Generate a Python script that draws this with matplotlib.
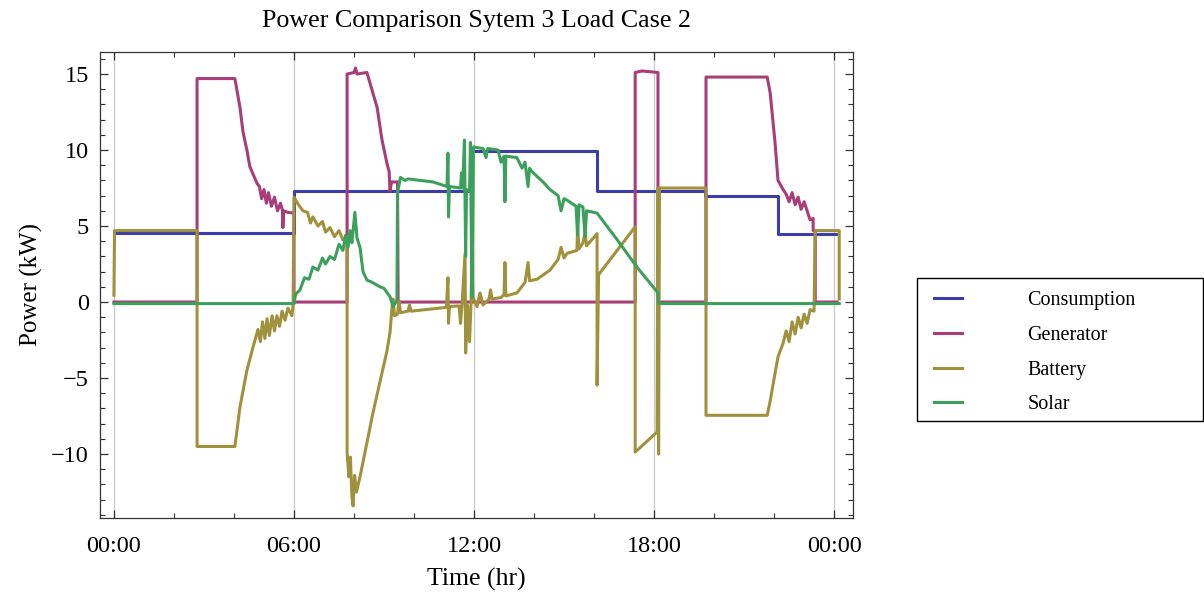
import numpy as np
import matplotlib.pyplot as plt
from matplotlib.ticker import MultipleLocator, FuncFormatter
from matplotlib.patches import Rectangle

plt.rcParams['font.family'] = ['Liberation Serif', 'DejaVu Serif']

# (hour, kW) points
consumption = [(0.0, 4.55), (6.0, 4.55), (6.0, 7.3), (11.93, 7.3), (11.93, 9.95), (16.1, 9.95),
               (16.1, 7.3), (19.7, 7.3), (19.7, 7.0), (22.13, 7.0), (22.13, 4.5), (24.1, 4.5)]

generator = [(0.0, 0), (2.77, 0), (2.77, 14.7), (4.03, 14.7), (4.2, 12.8), (4.3, 11.2), (4.43, 10.0),
             (4.53, 8.9), (4.77, 7.8), (4.85, 7.6), (4.92, 6.8), (5.0, 7.4), (5.08, 6.5), (5.15, 7.2),
             (5.25, 6.3), (5.35, 6.9), (5.45, 6.0), (5.55, 6.5), (5.62, 6.0), (5.63, 4.9), (5.65, 6.0),
             (5.8, 5.9), (6.0, 5.85), (6.0, 0), (7.77, 0), (7.77, 15.0), (8.0, 15.1), (8.05, 15.4),
             (8.1, 15.0), (8.43, 15.1), (8.77, 12.8), (8.93, 10.7), (9.1, 9.1), (9.17, 8.6), (9.2, 7.3),
             (9.25, 7.9), (9.45, 7.9), (9.47, 0), (17.37, 0), (17.37, 15.1), (17.6, 15.2), (18.13, 15.1),
             (18.13, 0), (19.73, 0), (19.73, 14.8), (21.77, 14.8), (21.87, 13.75), (22.03, 10.5),
             (22.13, 8.0), (22.3, 7.4), (22.4, 7.1), (22.5, 6.6), (22.6, 7.2), (22.7, 6.4), (22.8, 6.9),
             (22.9, 6.1), (23.0, 6.6), (23.1, 6.0), (23.2, 5.4), (23.3, 5.5), (23.3, 4.7), (23.37, 4.7),
             (23.37, 0), (24.1, 0)]

battery = [(0.0, 0.45), (0.02, 4.7), (2.77, 4.7), (2.77, -9.5), (4.03, -9.5), (4.2, -6.9), (4.43, -4.5),
           (4.63, -3.0), (4.8, -1.8), (4.88, -2.6), (4.95, -1.3), (5.03, -2.4), (5.1, -1.1), (5.18, -2.2),
           (5.27, -0.9), (5.35, -1.9), (5.43, -0.9), (5.52, -1.6), (5.6, -0.6), (5.7, -1.2), (5.8, -0.4),
           (5.93, -0.9), (5.97, -0.2), (6.0, 6.9), (6.15, 6.4), (6.3, 6.0), (6.45, 5.9), (6.55, 5.2),
           (6.63, 5.6), (6.8, 5.0), (6.95, 5.3), (7.05, 4.6), (7.2, 4.9), (7.35, 4.3), (7.5, 4.7),
           (7.63, 4.1), (7.77, 4.3), (7.77, -9.9), (7.83, -11.5), (7.88, -10.2), (7.93, -12.8),
           (7.97, -13.4), (8.02, -11.4), (8.08, -12.5), (8.2, -11.5), (8.63, -7.3), (9.1, -3.2),
           (9.2, -2.0), (9.27, -0.3), (9.3, 0.2), (9.35, -0.9), (9.45, -0.8), (9.5, 0.1), (9.55, -0.7),
           (9.8, -0.6), (9.85, -0.2), (9.9, -0.6), (11.08, -0.35), (11.13, 1.6), (11.15, -1.4),
           (11.18, -0.3), (11.5, -0.25), (11.55, -1.4), (11.6, -0.2), (11.7, 3.2), (11.72, -3.35),
           (11.78, -0.2), (11.85, -2.6), (11.9, -0.1), (11.93, 3.2), (11.96, 0.3), (12.1, -0.3),
           (12.2, 0.6), (12.3, -0.2), (12.5, 0.2), (12.55, 0.8), (12.6, 0.2), (12.9, 0.3), (13.0, 0.5),
           (13.03, 2.6), (13.06, 0.4), (13.43, 0.6), (13.7, 1.3), (13.8, 2.6), (13.85, 1.4), (14.1, 1.5),
           (14.53, 2.1), (14.8, 2.8), (14.9, 3.6), (15.0, 2.9), (15.1, 3.2), (15.43, 3.4), (15.45, 4.9),
           (15.5, 3.5), (15.63, 3.9), (15.7, 4.6), (15.75, 3.7), (16.1, 4.5), (16.1, -5.46), (16.15, 1.8),
           (17.37, 4.95), (17.37, -9.87), (18.1, -8.55), (18.13, 7.5), (18.15, -10.0), (18.18, 7.5),
           (19.73, 7.5), (19.73, -7.45), (21.77, -7.45), (21.87, -6.5), (22.03, -4.7), (22.13, -3.6),
           (22.3, -2.7), (22.4, -1.9), (22.5, -2.6), (22.6, -1.3), (22.7, -2.1), (22.8, -1.0),
           (22.9, -1.7), (23.0, -0.8), (23.1, -1.4), (23.2, -0.5), (23.33, -0.6), (23.37, 4.7),
           (24.17, 4.7), (24.17, 0.2)]

solar = [(0.0, -0.1), (6.0, -0.1), (6.05, 0.5), (6.2, 0.8), (6.35, 1.6), (6.5, 1.5), (6.63, 2.3),
         (6.8, 2.1), (6.95, 2.9), (7.05, 2.5), (7.2, 3.0), (7.35, 2.8), (7.5, 3.8), (7.63, 3.4),
         (7.72, 4.4), (7.8, 3.6), (7.87, 4.7), (7.93, 3.9), (8.03, 5.9), (8.1, 4.2), (8.2, 3.6),
         (8.3, 2.0), (8.43, 1.45), (8.6, 1.3), (8.87, 1.0), (9.0, 0.9), (9.2, 0.35), (9.3, -0.3),
         (9.43, 0.1), (9.45, 7.2), (9.55, 8.2), (9.7, 8.0), (9.8, 8.1), (10.63, 7.9), (11.1, 7.6),
         (11.13, 9.8), (11.15, 5.6), (11.18, 7.6), (11.55, 7.5), (11.58, 8.5), (11.62, 7.5),
         (11.68, 10.66), (11.72, 3.0), (11.75, 7.4), (11.85, 7.3), (11.88, 10.5), (11.93, 0.3),
         (11.98, 10.2), (12.3, 10.1), (12.4, 9.5), (12.45, 10.1), (12.8, 10.0), (12.9, 9.2),
         (13.0, 9.6), (13.03, 6.6), (13.06, 9.6), (13.43, 9.5), (13.6, 8.8), (13.7, 9.2), (13.8, 7.6),
         (13.85, 8.8), (13.97, 8.5), (14.3, 7.9), (14.53, 7.4), (14.8, 7.0), (14.9, 6.0), (15.0, 6.8),
         (15.1, 6.7), (15.4, 6.3), (15.45, 4.4), (15.5, 6.4), (15.63, 6.25), (15.7, 4.3), (15.75, 6.0),
         (16.1, 5.85), (16.77, 4.1), (17.43, 2.3), (18.13, 0.6), (18.15, -0.1), (24.17, -0.1)]

names = ['Consumption', 'Generator', 'Battery', 'Solar']
colors = ['#3c3cab', '#a83d78', '#a0913c', '#3ca05c']
series = [consumption, generator, battery, solar]

fig = plt.figure(figsize=(12.04, 5.96), dpi=100)
ax = fig.add_axes([0.083, 0.131, 0.6255, 0.7818])

for h in [0, 6, 12, 18, 24]:
    ax.axvline(h, color='#cccccc', lw=1, zorder=0)

handles = []
for data, name, c in zip(series, names, colors):
    t, p = np.array(data).T
    ln, = ax.plot(t, p, color=c, lw=2.2, label=name)
    handles.append(ln)

ax.set_xlim(-0.467, 24.63)
ax.set_ylim(-14.2, 16.45)
ax.xaxis.set_major_locator(MultipleLocator(6))
ax.xaxis.set_minor_locator(MultipleLocator(2))
ax.yaxis.set_major_locator(MultipleLocator(5))
ax.yaxis.set_minor_locator(MultipleLocator(1))
ax.xaxis.set_major_formatter(FuncFormatter(lambda v, pos: '%02d:00' % (int(round(v)) % 24)))
ax.tick_params(which='both', direction='in', top=True, right=True, labelsize=17.5, color='#333333')
ax.tick_params(which='major', length=6, width=0.9)
ax.tick_params(which='minor', length=3.5, width=0.8)
ax.tick_params(axis='x', which='major', pad=13)
ax.tick_params(axis='y', which='major', pad=8)
for s in ax.spines.values():
    s.set_color('#333333')
    s.set_linewidth(0.9)

ax.set_title('Power Comparison Sytem 3 Load Case 2', fontsize=18.7, pad=18)
ax.set_xlabel('Time (hr)', fontsize=18.5, labelpad=8)
ax.set_ylabel('Power (kW)', fontsize=18, labelpad=6)

fig.patches.append(Rectangle((0.7616, 0.2936), 0.2375, 0.24, transform=fig.transFigure,
                             fill=False, edgecolor='black', lw=1.0))
fig.legend(handles=handles, loc='upper left', bbox_to_anchor=(0.767, 0.528), frameon=False,
           fontsize=14.5, handlelength=1.4, handletextpad=3.25, labelspacing=0.77, borderpad=0)

fig.savefig('out.png', dpi=100)
